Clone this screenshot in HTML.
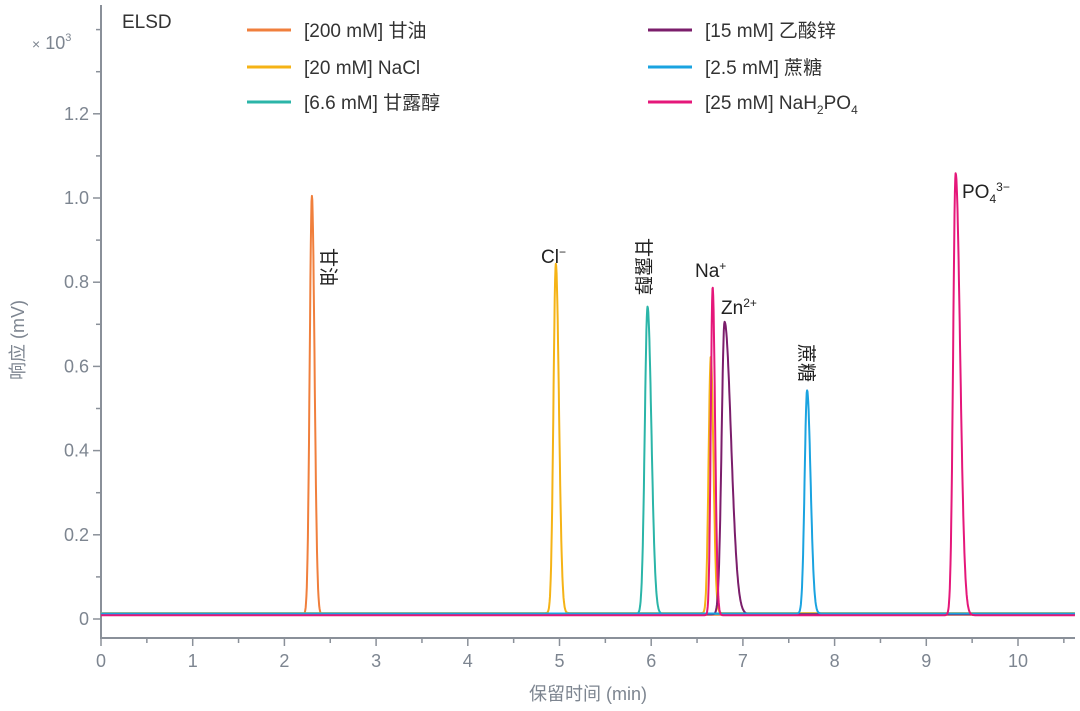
<!DOCTYPE html>
<html><head><meta charset="utf-8"><style>
body{margin:0;background:#fff}
svg{display:block;font-family:"Liberation Sans","Noto Sans CJK SC",sans-serif}
.tk{fill:#7d8590;font-size:18px}
.lg{fill:#333;font-size:19px}
.an{fill:#222;font-size:19px}
</style></head><body>
<svg id="c" width="1080" height="711"></svg>
<script>
const seriesNames=["[200 mM] 甘油","[20 mM] NaCl","[6.6 mM] 甘露醇","[15 mM] 乙酸锌","[2.5 mM] 蔗糖","[25 mM] NaH2PO4"];
const seriesColors=["#f07f3c","#f5b316","#2bb5a8","#7b1e6b","#1aa3e0","#e5177a"];
const baselines=[0.010,0.014,0.012,0.011,0.013,0.009];
const peakTimes=[[2.30],[4.96,6.65],[5.96],[6.80],[7.70],[6.67,9.32]];
const peakHeights=[[0.995],[0.83,0.61],[0.73],[0.695],[0.53],[0.78,1.05]];
const peakWidths=[[0.024],[0.026,0.024],[0.03],[0.032],[0.027],[0.02,0.027]];
const peakTails=[[1.2],[1.3,1.2],[1.4],[2.2],[1.4],[1.3,1.8]];
const xTicks=[0,1,2,3,4,5,6,7,8,9,10];
const yTicks=[0,0.2,0.4,0.6,0.8,1.0,1.2];
const yTickLabels=["0","0.2","0.4","0.6","0.8","1.0","1.2"];
const NS="http://www.w3.org/2000/svg";
const svg=document.getElementById('c');
const X0=101,XS=91.7,Y0=619,YS=421;
const xs=t=>X0+t*XS, ys=v=>Y0-v*YS;
function el(tag,at,txt){const e=document.createElementNS(NS,tag);for(const k in at)e.setAttribute(k,at[k]);if(txt!=null)e.textContent=txt;svg.appendChild(e);return e;}
let a=el('line',{x1:101,y1:5,x2:101,y2:638,stroke:'#8a9099','stroke-width':2});


a=el('line',{x1:100,y1:638,x2:1075,y2:638,stroke:'#8a9099','stroke-width':2});


for(let v=0;v<=1.4001;v+=0.1){const y=ys(v);const major=Math.round(v*10)%2==0&&v<1.25;el('line',{x1:major?93:96,y1:y,x2:101,y2:y,stroke:'#8a9099','stroke-width':1.5});}
yTicks.forEach((v,i)=>{const t=el('text',{x:89,y:ys(v)+6,'text-anchor':'end',class:'tk'},yTickLabels[i]);

});
for(let t=0;t<=10.5;t+=0.5){const x=xs(t);const major=Math.abs(t-Math.round(t))<0.01;el('line',{x1:x,y1:638,x2:x,y2:major?646:643,stroke:'#8a9099','stroke-width':1.5});}
xTicks.forEach(v=>{const t=el('text',{x:xs(v),y:667,'text-anchor':'middle',class:'tk'},String(v));

});
let m=el('text',{x:32,y:49,class:'tk','font-size':'17'});
m.innerHTML='<tspan font-size="14">×</tspan> 10<tspan font-size="11" dy="-8">3</tspan>';


m=el('text',{x:588,y:700,'text-anchor':'middle',class:'tk'},'保留时间 (min)');


m=el('text',{x:0,y:0,'text-anchor':'middle',class:'tk',transform:'translate(24,340) rotate(-90)'},'响应 (mV)');


m=el('text',{x:122,y:28,class:'lg','font-size':'17'},'ELSD');


seriesNames.forEach((n,s)=>{let d='';for(let t=0;t<=10.62;t+=0.004){let v=baselines[s];
peakTimes[s].forEach((pt,k)=>{const w=peakWidths[s][k]*(t>pt?peakTails[s][k]:1);v+=peakHeights[s][k]*Math.exp(-0.5*((t-pt)/w)**2);});
d+=(d?'L':'M')+xs(t).toFixed(1)+','+ys(v).toFixed(1);}
const p=el('path',{d:d,fill:'none',stroke:seriesColors[s],'stroke-width':2,'stroke-linejoin':'round'});

});
const lx=[247,247,247,648,648,648],ly=[30,67,102,30,67,102];
seriesNames.forEach((n,s)=>{el('line',{x1:lx[s],y1:ly[s],x2:lx[s]+44,y2:ly[s],stroke:seriesColors[s],'stroke-width':3});
let t;
if(s==5){t=el('text',{x:lx[s]+57,y:ly[s]+7,class:'lg'});t.innerHTML='[25 mM] NaH<tspan font-size="12" dy="5">2</tspan><tspan dy="-5">PO</tspan><tspan font-size="12" dy="5">4</tspan>';}
else t=el('text',{x:lx[s]+57,y:ly[s]+7,class:'lg'},n);

});
function rot(x,y,s){const t=el('text',{x:0,y:0,class:'an',transform:`translate(${x},${y}) rotate(90)`},s);}
rot(322,248,'甘油');rot(637,238,'甘露醇');rot(800,344,'蔗糖');
let t=el('text',{x:541,y:263,class:'an'});t.innerHTML='Cl<tspan font-size="12" dy="-7">−</tspan>';

t=el('text',{x:695,y:277,class:'an'});t.innerHTML='Na<tspan font-size="12" dy="-7">+</tspan>';

t=el('text',{x:721,y:314,class:'an'});t.innerHTML='Zn<tspan font-size="12" dy="-7">2+</tspan>';

t=el('text',{x:962,y:198,class:'an'});t.innerHTML='PO<tspan font-size="12" dy="5">4</tspan><tspan font-size="12" dy="-12">3−</tspan>';

</script>
</body></html>
